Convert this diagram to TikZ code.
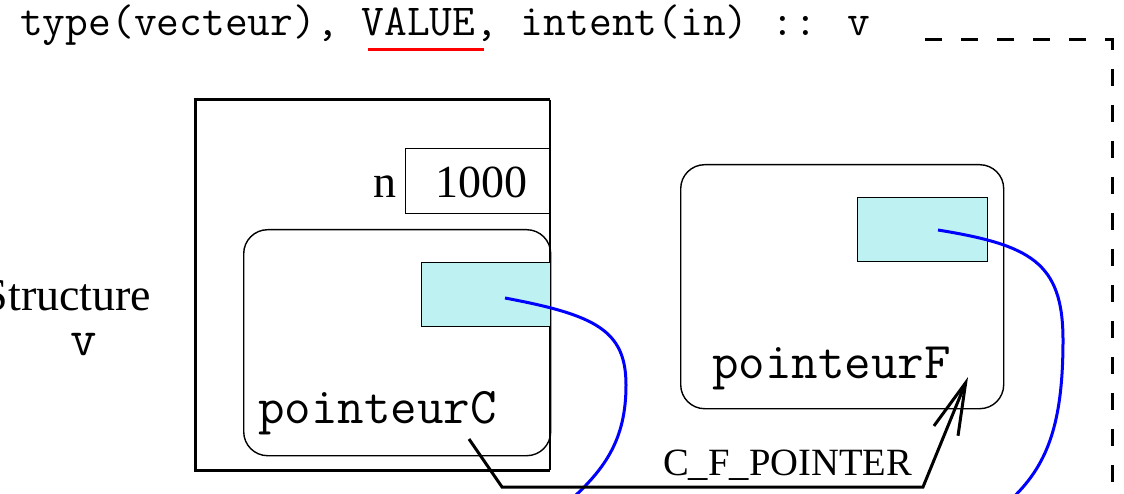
\documentclass[tikz,border=0pt]{standalone}
\usepackage{fontspec}
\setmainfont{Liberation Serif}
\usetikzlibrary{arrows.meta}
\definecolor{cellcyan}{RGB}{190,242,242}
\tikzset{
  thinline/.style={line width=1.4pt, black},
  thickline/.style={line width=3pt, black},
  roundbox/.style={thinline, rounded corners=24pt},
  cell/.style={thinline, fill=cellcyan},
  ptr/.style={line width=3pt, blue},
  mono/.style={font=\fontsize{51.5}{56}\selectfont\ttfamily, inner sep=0pt, anchor=base west},
  serif/.style={font=\fontsize{46}{50}\selectfont, inner sep=0pt},
  dashline/.style={line width=3pt, dash pattern=on 17pt off 19pt},
}
\begin{document}
\begin{tikzpicture}[x=1pt,y=-1pt]
\useasboundingbox (0,0) rectangle (1124,494);
% declaration text
\node[mono, font=\fontsize{44.2}{48}\selectfont\ttfamily] (decl) at (20,36) {type(vecteur), VALUE, intent(in) :: v};
\draw[red, line width=3pt] (368,50) coordinate (ul1) -- (484,50) coordinate (ul2);
% dashed frame
\coordinate (d1) at (925,40);
\coordinate (d2) at (1112,40);
\coordinate (d3) at (1112,500);
\draw[dashline] (d1) -- (d2) -- (d3);
% structure label
\node[serif, anchor=base] (structlbl) at (67,310) {Structure};
\node[mono, anchor=base] (vlbl) at (84,355) {v};
% outer structure box
\coordinate (o1) at (550,100);
\coordinate (o2) at (195,100);
\coordinate (o3) at (195,470);
\coordinate (o4) at (550,470);
\draw[thickline] (o1) -- (o2) -- (o3) -- (o4);
\draw[thinline] (o1) -- (o4);
% n field
\node[thinline, draw, minimum width=145pt, minimum height=65pt, inner sep=0pt, anchor=north west] (nbox) at (405,148) {};
\node[serif, anchor=base] (nval) at (481,198) {1000};
\node[serif, anchor=base] (nlbl) at (385,198) {n};
% pointeurC
\node[roundbox, draw, minimum width=307pt, minimum height=226pt, inner sep=0pt, anchor=north west] (pc) at (243,229) {};
\node[cell, draw, minimum width=129pt, minimum height=64pt, inner sep=0pt, anchor=north west] (pccell) at (421,262) {};
\node[mono] (pctext) at (258,423) {pointeurC};
% pointeurF
\node[roundbox, draw, minimum width=323pt, minimum height=244pt, inner sep=0pt, anchor=north west] (pf) at (680,164) {};
\node[cell, draw, minimum width=130pt, minimum height=64pt, inner sep=0pt, anchor=north west] (pfcell) at (857,197) {};
\node[mono] (pftext) at (712,378) {pointeurF};
% blue pointer curves
\coordinate (c1s) at (505,298);
\coordinate (c1e) at (565,505);
\draw[ptr] (c1s) .. controls (595,315) and (626,330) .. (626,385) .. controls (626,440) and (605,470) .. (c1e);
\coordinate (c2s) at (938,230);
\coordinate (c2e) at (1005,505);
\draw[ptr] (c2s) .. controls (1030,245) and (1063,262) .. (1063,340) .. controls (1063,430) and (1045,470) .. (c2e);
% C_F_POINTER arrow
\coordinate (as) at (469,439);
\coordinate (ab) at (502,487);
\coordinate (ac) at (923,487);
\coordinate (at) at (968,377);
\draw[thickline, -{Straight Barb[length=52pt,width=26pt,line width=3pt]}] (as) -- (ab) -- (ac) -- (at);
\node[serif, font=\fontsize{38.6}{42}\selectfont, anchor=base west] (cfp) at (663,475) {C\_F\_POINTER};
\end{tikzpicture}
\end{document}
